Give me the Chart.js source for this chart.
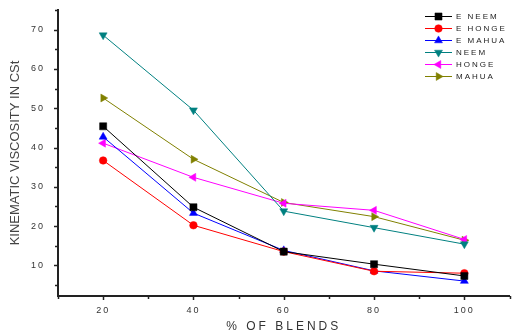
<!DOCTYPE html>
<html><head><meta charset="utf-8">
<script src="https://cdn.jsdelivr.net/npm/chart.js@4/dist/chart.umd.min.js"></script>
<style>html,body{margin:0;padding:0;background:#fff}#wrap{width:515px;height:334px;position:relative}</style>
</head><body><div id="wrap"><canvas id="c"></canvas></div>
<script>
const blends = [20, 40, 60, 80, 100];
const eNeem  = [45.4, 24.8, 13.5, 10.3, 7.3];
const eHonge = [36.7, 20.2, 13.5, 8.5, 8.0];
const eMahua = [42.7, 23.3, 13.8, 8.6, 6.0];
const neem   = [68.6, 49.5, 23.8, 19.6, 15.4];
const honge  = [41.1, 32.4, 25.8, 24.0, 16.6];
const mahua  = [52.6, 37.0, 26.0, 22.4, 16.4];
const seriesNames = ['E NEEM', 'E HONGE', 'E MAHUA', 'NEEM', 'HONGE', 'MAHUA'];
const yTickValues = [10, 20, 30, 40, 50, 60, 70];
const xTickValues = [20, 40, 60, 80, 100];
const xTitle = '% OF BLENDS';
const yTitle = 'KINEMATIC VISCOSITY IN CSt';

const FONT = "'Liberation Sans', Arial, sans-serif";
const styles = [
  {color:'#000000', pointStyle:'rect', r:5, rot:0},
  {color:'#ff0000', pointStyle:'circle', r:3.8, rot:0},
  {color:'#0000ff', pointStyle:'triangle', r:4.6, rot:0},
  {color:'#008080', pointStyle:'triangle', r:4.6, rot:180},
  {color:'#ff00ff', pointStyle:'triangle', r:4.6, rot:-90},
  {color:'#808000', pointStyle:'triangle', r:4.6, rot:90}
];
const allSeries = [eNeem, eHonge, eMahua, neem, honge, mahua];

const datasets = allSeries.map((vals, i) => ({
  label: seriesNames[i],
  data: blends.map((b, j) => ({x: b, y: vals[j]})),
  borderColor: styles[i].color,
  backgroundColor: styles[i].color,
  borderWidth: 1,
  pointStyle: styles[i].pointStyle,
  pointRadius: styles[i].r,
  pointRotation: styles[i].rot,
  pointBorderWidth: 0.5,
  tension: 0
}));

function patchScale(scale, labelSp, titleSp) {
  if (scale.__patched) return;
  scale.__patched = true;
  const dl = scale.drawLabels.bind(scale);
  const dt = scale.drawTitle.bind(scale);
  scale.drawLabels = function(a) { const c = this.ctx; c.save(); c.letterSpacing = labelSp; dl(a); c.restore(); };
  scale.drawTitle = function() { const c = this.ctx; c.save(); c.letterSpacing = titleSp; dt(); c.restore(); };
}

function drawMarker(ctx, st, x, y) {
  ctx.save();
  ctx.fillStyle = st.color; ctx.strokeStyle = st.color; ctx.lineWidth = 0.5;
  ctx.translate(x, y);
  ctx.rotate(st.rot * Math.PI / 180);
  ctx.beginPath();
  if (st.pointStyle === 'rect') {
    const s = st.r * Math.SQRT1_2; ctx.rect(-s, -s, 2*s, 2*s);
  } else if (st.pointStyle === 'circle') {
    ctx.arc(0, 0, st.r, 0, Math.PI*2);
  } else {
    const r = st.r;
    ctx.moveTo(0, -r);
    ctx.lineTo(r*Math.cos(Math.PI/6), r*Math.sin(Math.PI/6));
    ctx.lineTo(-r*Math.cos(Math.PI/6), r*Math.sin(Math.PI/6));
    ctx.closePath();
  }
  ctx.fill(); ctx.stroke();
  ctx.restore();
}

const custom = {
  id: 'custom',
  beforeDraw(chart) {
    patchScale(chart.scales.x, '2px', '3px');
    patchScale(chart.scales.y, '2px', '0px');
  },
  afterDraw(chart) {
    const ctx = chart.ctx;
    const xs = chart.scales.x, ys = chart.scales.y;
    const ca = chart.chartArea;
    ctx.save();
    ctx.strokeStyle = '#222'; ctx.lineWidth = 1.5;
    for (let v = 10; v <= 110; v += 10) {
      const px = Math.round(xs.getPixelForValue(v)) + 0.5;
      const len = (v % 20 === 0) ? 4 : 3;
      ctx.beginPath(); ctx.moveTo(px, ca.bottom); ctx.lineTo(px, ca.bottom + len); ctx.stroke();
    }
    for (let v = 5; v <= 75; v += 5) {
      const py = Math.round(ys.getPixelForValue(v)) + 0.5;
      const len = (v % 10 === 0) ? 4 : 3;
      ctx.beginPath(); ctx.moveTo(ca.left, py); ctx.lineTo(ca.left - len, py); ctx.stroke();
    }
    // legend
    ctx.font = '8px ' + FONT;
    ctx.letterSpacing = '2px';
    ctx.textBaseline = 'middle';
    ctx.textAlign = 'left';
    seriesNames.forEach((name, i) => {
      const y = 16 + i * 12;
      const st = styles[i];
      ctx.strokeStyle = st.color; ctx.lineWidth = 1;
      ctx.beginPath(); ctx.moveTo(425, y + 0.5); ctx.lineTo(452, y + 0.5); ctx.stroke();
      drawMarker(ctx, st, 438.5, y + 0.5);
      ctx.fillStyle = '#222';
      ctx.fillText(name, 456, y + 0.5);
    });
    ctx.restore();
  }
};

new Chart(document.getElementById('c'), {
  type: 'line',
  data: { datasets },
  options: {
    responsive: true,
    maintainAspectRatio: false,
    animation: false,
    events: [],
    layout: { padding: { left: 0, right: 2, top: 10, bottom: 0 } },
    plugins: { legend: { display: false }, tooltip: { enabled: false } },
    scales: {
      x: {
        type: 'linear', min: 10, max: 110,
        afterFit(s) { s.height = 38; s.paddingLeft = 0; s.paddingRight = 0; },
        afterBuildTicks(s) { s.ticks = xTickValues.map(v => ({value: v})); },
        grid: { display: true, drawOnChartArea: false, drawTicks: false },
        border: { display: true, color: '#222', width: 2 },
        ticks: { color: '#333', font: { family: FONT, size: 9 }, padding: 9, maxRotation: 0, autoSkip: false },
        title: { display: true, text: xTitle, color: '#333', font: { family: FONT, size: 12 }, padding: { top: 0, bottom: 0 } }
      },
      y: {
        type: 'linear', min: 2.2, max: 75,
        afterFit(s) { s.width = 58; s.paddingTop = 0; s.paddingBottom = 0; },
        afterBuildTicks(s) { s.ticks = yTickValues.map(v => ({value: v})); },
        grid: { display: true, drawOnChartArea: false, drawTicks: false },
        border: { display: true, color: '#222', width: 2 },
        ticks: { color: '#333', font: { family: FONT, size: 9 }, padding: 13 },
        title: { display: true, text: yTitle, color: '#444', font: { family: FONT, size: 13 }, padding: { top: 8, bottom: 0 } }
      }
    }
  },
  plugins: [custom]
});
</script>
</body></html>
